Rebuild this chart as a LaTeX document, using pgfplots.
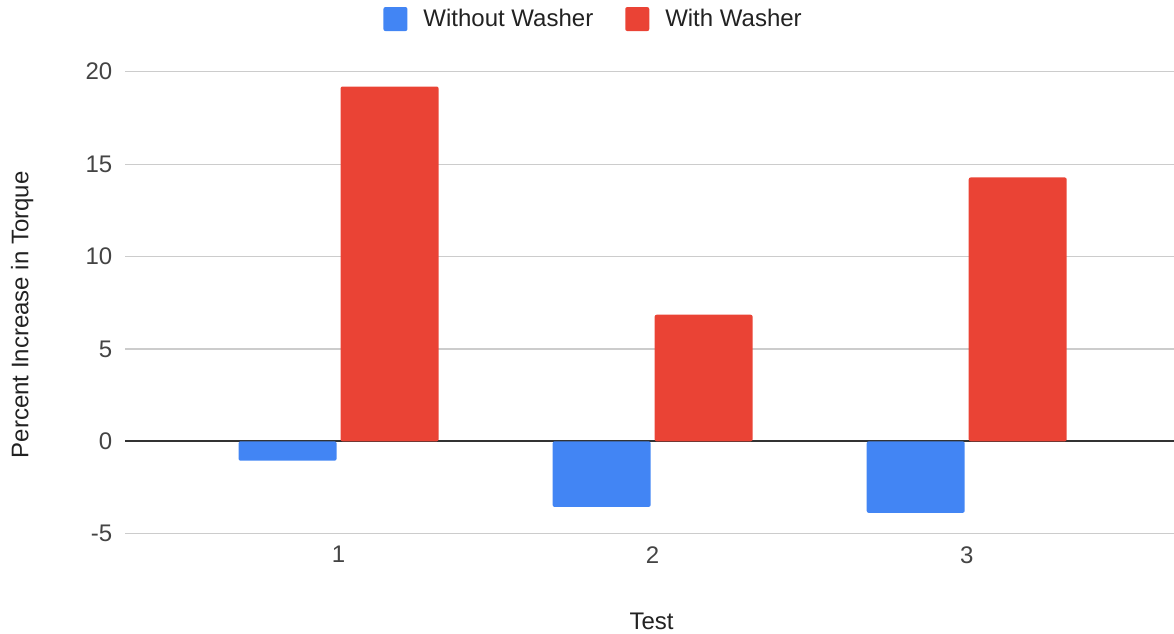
\documentclass[border=0pt]{standalone}
\usepackage{fontspec}
\setmainfont{Liberation Sans}
\usepackage{pgfplots}
\pgfplotsset{compat=1.18}

\definecolor{gblue}{HTML}{4285F4}
\definecolor{gred}{HTML}{EA4335}
\definecolor{gridgray}{HTML}{CCCCCC}
\definecolor{zeroline}{HTML}{333333}
\definecolor{txt}{HTML}{222222}
\definecolor{ticktxt}{HTML}{444444}

\newcommand{\chartfont}{\fontsize{18}{22}\selectfont}

\begin{document}
\begin{tikzpicture}
\useasboundingbox (0,0) rectangle (880.5pt,475.5pt);
\begin{axis}[
    at={(93.75pt,75.2pt)}, anchor=south west,
    scale only axis,
    width=786.75pt, height=346.5pt,
    ybar=3pt,
    bar width=73.5pt,
    xmin=0.32, xmax=3.66,
    ymin=-5, ymax=20,
    xtick={1,2,3},
    ytick={-5,5,10,15,20},
    extra y ticks={0},
    extra y tick style={grid style={zeroline, line width=1.4pt}},
    ymajorgrids,
    grid style={gridgray, line width=0.9pt},
    axis line style={draw=none},
    major tick length=0pt,
    tick style={draw=none},
    /pgf/number format/assume math mode=true,
    ticklabel style={font=\chartfont, text=ticktxt},
    yticklabel style={xshift=-6pt},
    xticklabel style={yshift=-6pt},
    xlabel={Test},
    ylabel={Percent Increase in Torque},
    xlabel style={at={(axis description cs:0.502,-0.189)}, anchor=center, font=\chartfont, text=txt},
    ylabel style={at={(axis description cs:-0.098,0.474)}, anchor=center, rotate=0, font=\chartfont, text=txt},
    legend columns=2,
    legend style={at={(axis description cs:0.447,1.114)}, anchor=center, draw=none, fill=none,
        font=\chartfont, text=txt,
        /tikz/every odd column/.append style={column sep=10pt},
        /tikz/every even column/.append style={column sep=22pt}},
    legend image code/.code={\fill[#1, rounded corners=1.5pt] (0pt,-9pt) rectangle (18pt,9pt);},
]
\addplot[fill=gblue, draw=none, rounded corners=1.5pt] coordinates {(1,-1.05) (2,-3.55) (3,-3.87)};
\addplot[fill=gred, draw=none, rounded corners=1.5pt] coordinates {(1,19.2) (2,6.85) (3,14.28)};
\legend{Without Washer, With Washer}
\end{axis}
\end{tikzpicture}
\end{document}
